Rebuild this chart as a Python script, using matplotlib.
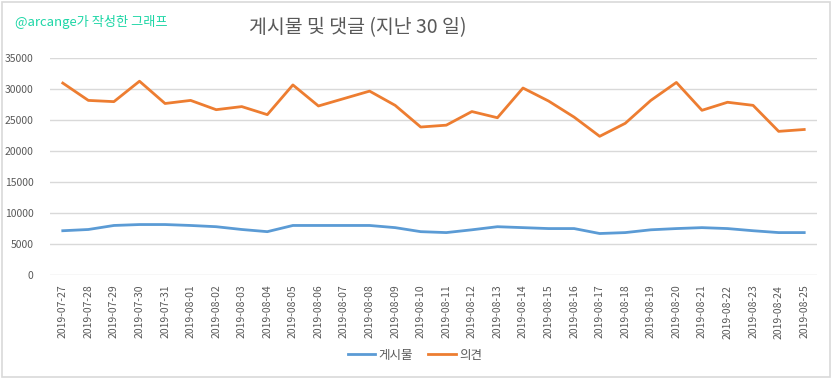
import matplotlib
matplotlib.use("Agg")
import matplotlib.pyplot as plt
from matplotlib.patches import Rectangle

plt.rcParams['font.family'] = ['Noto Sans CJK KR', 'DejaVu Sans']

# Data
dates = ['2019-07-27', '2019-07-28', '2019-07-29', '2019-07-30', '2019-07-31',
         '2019-08-01', '2019-08-02', '2019-08-03', '2019-08-04', '2019-08-05',
         '2019-08-06', '2019-08-07', '2019-08-08', '2019-08-09', '2019-08-10',
         '2019-08-11', '2019-08-12', '2019-08-13', '2019-08-14', '2019-08-15',
         '2019-08-16', '2019-08-17', '2019-08-18', '2019-08-19', '2019-08-20',
         '2019-08-21', '2019-08-22', '2019-08-23', '2019-08-24', '2019-08-25']
posts = [7150, 7350, 8000, 8150, 8150, 8000, 7800, 7350, 7000, 8000,
         8000, 8000, 8000, 7650, 7000, 6850, 7300, 7800, 7650, 7500,
         7500, 6700, 6850, 7300, 7500, 7650, 7500, 7150, 6850, 6850]
comments = [31000, 28200, 28000, 31300, 27700, 28200, 26700, 27200, 25900, 30700,
            27300, 28500, 29700, 27400, 23900, 24200, 26400, 25400, 30200, 28100,
            25500, 22400, 24500, 28200, 31100, 26600, 27900, 27400, 23200, 23500]

blue = '#5B9BD5'
orange = '#ED7D31'
text_grey = '#595959'
grid_grey = '#D9D9D9'

fig = plt.figure(figsize=(8.32, 3.78), dpi=100)
ax = fig.add_axes([50 / 832, 1 - 275 / 378, 767 / 832, (275 - 58.3) / 378])

x = range(len(dates))
ax.plot(x, posts, color=blue, lw=2.0, label='게시물', solid_joinstyle='round')
ax.plot(x, comments, color=orange, lw=2.0, label='의견', solid_joinstyle='round')

ax.set_xlim(-0.5, len(dates) - 0.5)
ax.set_ylim(0, 35000)
ax.set_yticks(range(0, 35001, 5000))
ax.set_xticks(list(x))
ax.set_xticklabels(dates, rotation=90, fontsize=7.5, color=text_grey)
ax.tick_params(axis='y', labelsize=7.5, labelcolor=text_grey, length=0, pad=12)
ax.tick_params(axis='x', length=0, pad=7)
ax.grid(axis='y', color=grid_grey, lw=1)
ax.set_axisbelow(True)
for s in ax.spines.values():
    s.set_visible(False)

fig.text(358 / 832, 1 - 28 / 378, '게시물 및 댓글 (지난 30 일)', ha='center', va='center',
         fontsize=14, color=text_grey)
fig.text(15 / 832, 1 - 22 / 378, '@arcange가 작성한 그래프', ha='left', va='center',
         fontsize=9.5, color='#1ED6A6')

leg = fig.legend(loc='center', bbox_to_anchor=(415 / 832, 1 - 355 / 378), ncol=2,
                 frameon=False, fontsize=9, handlelength=2.2, columnspacing=1.2,
                 handletextpad=0.3)
for t in leg.get_texts():
    t.set_color(text_grey)

fig.patches.append(Rectangle((0.002, 0.003), 0.995, 0.993, transform=fig.transFigure,
                             fill=False, edgecolor=grid_grey, lw=1.2))

fig.savefig('out.png', dpi=100)
